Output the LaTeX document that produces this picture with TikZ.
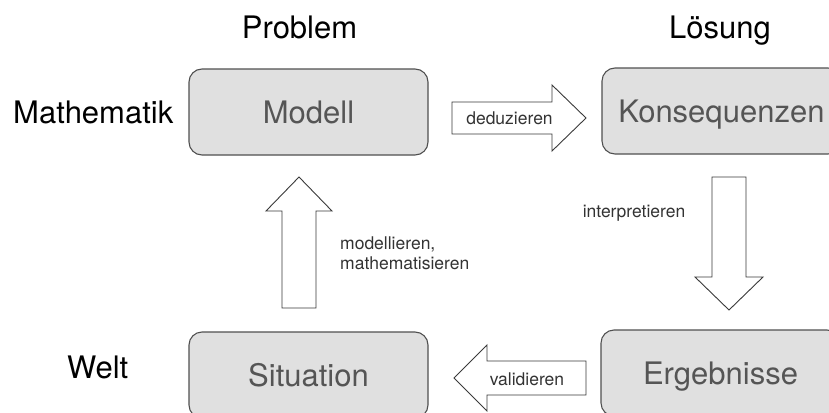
\documentclass[tikz,border=0pt]{standalone}
\usepackage{fontspec}
\setmainfont{TeX Gyre Heros}
\definecolor{boxfill}{HTML}{E0E0E0}
\definecolor{boxline}{HTML}{505050}
\definecolor{boxtext}{HTML}{555555}
\definecolor{arrline}{HTML}{3A3A3A}
\definecolor{arrtext}{HTML}{333333}
\begin{document}
\begin{tikzpicture}[x=1pt,y=-1pt,
  box/.style={draw=boxline, fill=boxfill, line width=1.1pt, rounded corners=13pt,
    text=boxtext, font=\fontsize{31}{37}\selectfont, minimum width=239pt,
    minimum height=86pt, inner sep=0pt, text height=22pt, text depth=0pt},
  blockarrow/.style={draw=arrline, fill=white, line width=0.9pt, line join=miter},
  bigtext/.style={font=\fontsize{31}{37}\selectfont, text=black, inner sep=0pt},
  smalltext/.style={font=\fontsize{17.5}{20}\selectfont, text=arrtext, inner sep=0pt}]
\useasboundingbox (0,0) rectangle (829,412);
\clip (0,0) rectangle (829,412);
% titles
\node[bigtext, anchor=base] (problem) at (299.5,39) {Problem};
\node[bigtext, anchor=base] (loesung) at (720,39) {Lösung};
\node[bigtext, anchor=base west] (mathe) at (13,123) {Mathematik};
\node[bigtext, anchor=base west] (welt) at (67,378) {Welt};
% boxes
\node[box] (modell) at (308.5,112) {Modell};
\node[box] (kons) at (721.5,111) {Konsequenzen};
\node[box] (situ) at (308.5,375) {Situation};
\node[box] (erg) at (720.5,373) {Ergebnisse};
% block arrows
\draw[blockarrow] (452,102) -- (552,102) -- (552,85) -- (586,118) -- (552,151) -- (552,134) -- (452,134) -- cycle;
\draw[blockarrow] (282,308) -- (282,211) -- (266,211) -- (299,177) -- (332,211) -- (316,211) -- (316,308) -- cycle;
\draw[blockarrow] (712,177) -- (746,177) -- (746,277) -- (763,277) -- (729,310) -- (695,277) -- (712,277) -- cycle;
\draw[blockarrow] (586,361) -- (487,361) -- (487,345) -- (454,378) -- (487,411) -- (487,395) -- (586,395) -- cycle;
% arrow labels
\node[smalltext] (ded) at (509.5,118) {deduzieren};
\node[smalltext, anchor=west, align=left] (modl) at (340,253) {modellieren,\\mathematisieren};
\node[smalltext] (interp) at (634,213) {interpretieren};
\node[smalltext] (valid) at (527,379) {validieren};
\end{tikzpicture}
\end{document}
